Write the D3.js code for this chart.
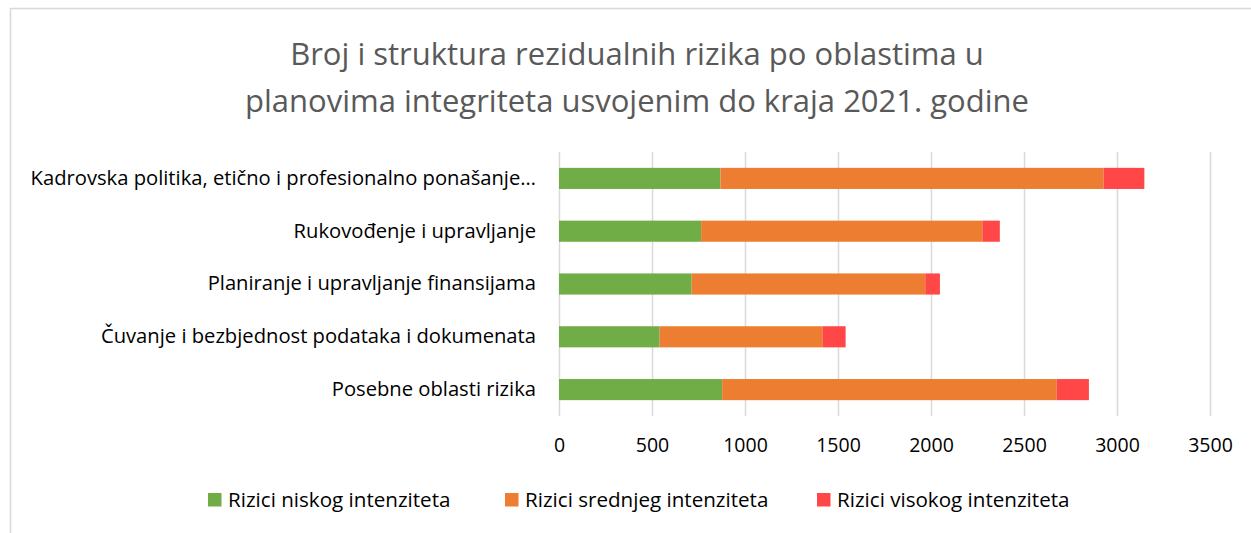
<!DOCTYPE html>
<html>
<head>
<meta charset="utf-8">
<script src="https://cdn.jsdelivr.net/npm/d3@7"></script>
<style>
  body { margin: 0; background: #fff; }
  svg { display: block; font-family: "Open Sans", sans-serif; }
</style>
</head>
<body>
<div id="chart"></div>
<script>
const width = 1251;
const height = 533;

const margin = ({top: 152, right: 41, bottom: 117, left: 559});

const titleLines = [
  "Broj i struktura rezidualnih rizika po oblastima u",
  "planovima integriteta usvojenim do kraja 2021. godine"
];

const categories = [
  "Kadrovska politika, etično i profesionalno ponašanje…",
  "Rukovođenje i upravljanje",
  "Planiranje i upravljanje finansijama",
  "Čuvanje i bezbjednost podataka i dokumenata",
  "Posebne oblasti rizika"
];

const seriesNames = ["Rizici niskog intenziteta", "Rizici srednjeg intenziteta", "Rizici visokog intenziteta"];
const low = [868, 764, 713, 541, 877];
const medium = [2060, 1512, 1256, 875, 1799];
const high = [219, 94, 79, 125, 173];

const xTicks = [0, 500, 1000, 1500, 2000, 2500, 3000, 3500];

const colors = ["#70ad47", "#ed7d31", "#ff4747"];

const data = categories.map((c, i) => ({cat: c, low: low[i], medium: medium[i], high: high[i]}));
const keys = ["low", "medium", "high"];
const stacked = d3.stack().keys(keys)(data);

const x = d3.scaleLinear()
  .domain([0, 3500])
  .range([margin.left, width - margin.right]);

const y = d3.scaleBand()
  .domain(categories)
  .range([margin.top, height - margin.bottom])
  .paddingInner(0.6)
  .paddingOuter(0.3);

const color = d3.scaleOrdinal().domain(keys).range(colors);

const svg = d3.select("#chart")
  .append("svg")
  .attr("width", width)
  .attr("height", height);

// chart frame
svg.append("path")
  .attr("d", `M10.5,${height} V8.5 H${width}`)
  .attr("fill", "none")
  .attr("stroke", "#d9d9d9")
  .attr("stroke-width", 1.5);

svg.append("g")
  .selectAll("text")
  .data(titleLines)
  .join("text")
  .attr("x", 637)
  .attr("y", (d, i) => 65 + i * 47)
  .attr("text-anchor", "middle")
  .attr("fill", "#595959")
  .attr("font-size", 31)
  .text(d => d);

// gridlines
svg.append("g")
  .attr("transform", `translate(0,${height - margin.bottom})`)
  .call(d3.axisBottom(x).tickValues(xTicks).tickSize(-(height - margin.top - margin.bottom)).tickFormat(""))
  .call(g => g.select(".domain").remove())
  .call(g => g.selectAll(".tick line").attr("stroke", "#d9d9d9").attr("stroke-width", 1.5));

svg.append("g")
  .selectAll("g")
  .data(stacked)
  .join("g")
  .attr("fill", d => color(d.key))
  .selectAll("rect")
  .data(d => d)
  .join("rect")
  .attr("x", d => x(d[0]))
  .attr("y", d => y(d.data.cat))
  .attr("width", d => x(d[1]) - x(d[0]))
  .attr("height", y.bandwidth());

// x tick labels
svg.append("g")
  .attr("transform", `translate(0,${height - margin.bottom})`)
  .call(d3.axisBottom(x).tickValues(xTicks).tickSize(0).tickPadding(22).tickFormat(d3.format("d")))
  .call(g => g.select(".domain").remove())
  .attr("font-family", null)
  .attr("font-size", 19.5)
  .call(g => g.selectAll("text").attr("fill", "#000"));

// category labels
svg.append("g")
  .attr("transform", `translate(${margin.left},0)`)
  .call(d3.axisLeft(y).tickSize(0).tickPadding(23))
  .call(g => g.select(".domain").remove())
  .attr("font-family", null)
  .attr("font-size", 20.2)
  .call(g => g.selectAll("text").attr("fill", "#000"));

// legend
const legendX = [208, 505, 817];
const legend = svg.append("g")
  .selectAll("g")
  .data(seriesNames)
  .join("g")
  .attr("transform", (d, i) => `translate(${legendX[i]},493)`);

legend.append("rect")
  .attr("width", 13.5)
  .attr("height", 13.5)
  .attr("fill", (d, i) => colors[i]);

legend.append("text")
  .attr("x", 20)
  .attr("y", 7)
  .attr("dy", "0.35em")
  .attr("font-size", 20.6)
  .attr("fill", "#000")
  .text(d => d);
</script>
</body>
</html>
